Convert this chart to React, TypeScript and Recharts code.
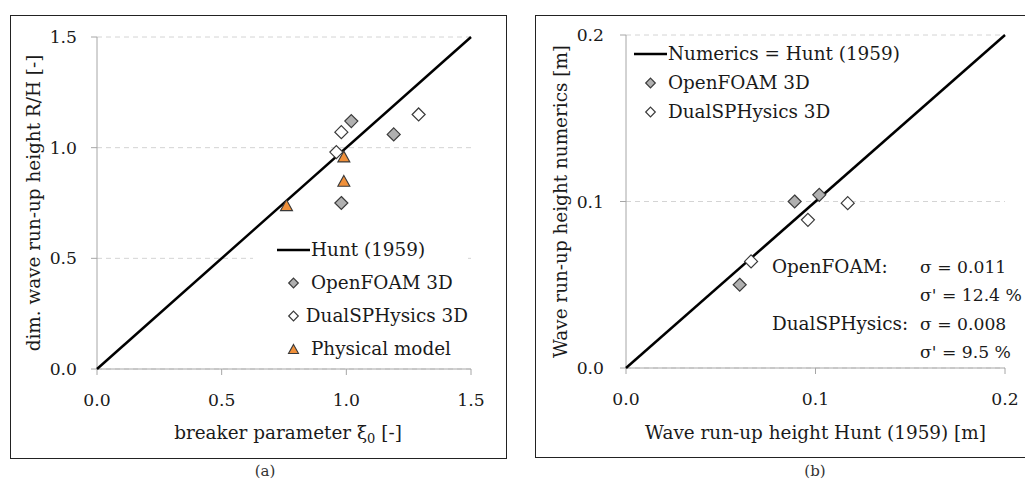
import React from "react";
import { CartesianGrid, Legend, Scatter, ScatterChart, XAxis, YAxis } from "recharts";

const FONT = "'DejaVu Serif', serif";
const TXT = "#1a1a1a";
const AXIS = "#a6a6a6";
const GRID = "#d4d4d4";
const GREY = "#b0b0b0";
const ORANGE = "#f0903a";
const EDGE = "#3a3a3a";
const FS = 18.4; // titles, legend

// panel (a): breaker parameter vs dim. run-up
const TICKS_A = [0, 0.5, 1, 1.5];
const HUNT_A_X = [0, 1.5];
const HUNT_A_Y = [0, 1.5];
const OF_A_XI = [1.02, 1.19, 0.98];
const OF_A_RH = [1.12, 1.06, 0.75];
const SPH_A_XI = [0.98, 0.96, 1.29];
const SPH_A_RH = [1.07, 0.98, 1.15];
const PHYS_XI = [0.99, 0.99, 0.76];
const PHYS_RH = [0.96, 0.85, 0.74];

// panel (b): Hunt vs numerics [m]
const TICKS_B = [0, 0.1, 0.2];
const HUNT_B_X = [0, 0.2];
const HUNT_B_Y = [0, 0.2];
const OF_B_HUNT = [0.089, 0.102, 0.06];
const OF_B_NUM = [0.1, 0.104, 0.05];
const SPH_B_HUNT = [0.096, 0.066, 0.117];
const SPH_B_NUM = [0.089, 0.064, 0.099];

const STATS = [
  ["OpenFOAM:", "σ = 0.011"],
  ["", "σ' = 12.4 %"],
  ["DualSPHysics:", "σ = 0.008"],
  ["", "σ' = 9.5 %"],
];

const pts = (xs: number[], ys: number[]) => xs.map((x, i) => ({ x, y: ys[i] }));

const diamond = (fill: string, r = 6.5) => (p: any) => (
  <polygon points={`${p.cx},${p.cy - r} ${p.cx + r},${p.cy} ${p.cx},${p.cy + r} ${p.cx - r},${p.cy}`}
    fill={fill} stroke={EDGE} strokeWidth={1.2} />
);
const triangle = (w = 12) => (p: any) => (
  <polygon points={`${p.cx},${p.cy - w * 0.45} ${p.cx + w / 2},${p.cy + w * 0.45} ${p.cx - w / 2},${p.cy + w * 0.45}`}
    fill={ORANGE} stroke={EDGE} strokeWidth={1.1} />
);
const none = () => <g />;

type Row = { label: string; kind: "line" | "grey" | "white" | "tri" };

function LegendBox({ rows, rowH }: { rows: Row[]; rowH: number }) {
  return (
    <div style={{ fontFamily: FONT, fontSize: FS, color: TXT }}>
      {rows.map(r => (
        <div key={r.label} style={{ display: "flex", alignItems: "center", height: rowH }}>
          <svg width={33} height={16} style={{ display: "block" }}>
            {r.kind === "line" && <line x1={0} x2={33} y1={8} y2={8} stroke="#000" strokeWidth={2.5} />}
            {r.kind === "grey" && diamond(GREY, 4.8)({ cx: 16.5, cy: 8 })}
            {r.kind === "white" && diamond("#fff", 4.8)({ cx: 16.5, cy: 8 })}
            {r.kind === "tri" && triangle(10)({ cx: 16.5, cy: 8 })}
          </svg>
          <span style={{ marginLeft: 1, whiteSpace: "nowrap" }}>{r.label}</span>
        </div>
      ))}
    </div>
  );
}

const tick = { fill: TXT, fontSize: 17.2, fontFamily: FONT };
const fmt = (v: number) => v.toFixed(1);

const yTitle = (text: string, dx: number) => (p: any) => {
  const vb = p.viewBox || {};
  const cx = (vb.x ?? 0) + dx;
  const cy = (vb.y ?? 0) + (vb.height ?? 0) / 2;
  return (
    <text x={cx} y={cy} transform={`rotate(-90 ${cx} ${cy})`} textAnchor="middle" dominantBaseline="central"
      fill={TXT} fontSize={FS} fontFamily={FONT}>{text}</text>
  );
};

export default function App() {
  const rowsA: Row[] = [
    { label: "Hunt (1959)", kind: "line" },
    { label: "OpenFOAM 3D", kind: "grey" },
    { label: "DualSPHysics 3D", kind: "white" },
    { label: "Physical model", kind: "tri" },
  ];
  const rowsB: Row[] = [
    { label: "Numerics = Hunt (1959)", kind: "line" },
    { label: "OpenFOAM 3D", kind: "grey" },
    { label: "DualSPHysics 3D", kind: "white" },
  ];

  return (
    <div style={{ position: "absolute", left: 0, top: 0, width: 1025, height: 483, background: "#fff", fontFamily: FONT }}>
      <div style={{ position: "absolute", left: 10, top: 15, width: 497, height: 444, border: "1.3px solid #222", boxSizing: "border-box" }} />
      <div style={{ position: "absolute", left: 535, top: 15, width: 500, height: 443, border: "1.3px solid #222", boxSizing: "border-box" }} />

      <div style={{ position: "absolute", left: 10, top: 15 }}>
        <ScatterChart width={496} height={443} margin={{ top: 22, right: 35, bottom: 0, left: 0 }}>
          <CartesianGrid vertical={false} stroke={GRID} strokeDasharray="5 4" />
          <XAxis type="number" dataKey="x" domain={[0, 1.5]} ticks={TICKS_A} tickFormatter={fmt} height={89}
            stroke={AXIS} tickSize={6} tickMargin={19} tick={tick}
            label={(p: any) => {
              const vb = p.viewBox || {};
              const cx = (vb.x ?? 0) + (vb.width ?? 0) / 2 + 4;
              const cy = (vb.y ?? 0) + 63;
              return (
                <text x={cx} y={cy} textAnchor="middle" dominantBaseline="central" fill={TXT} fontSize={FS} fontFamily={FONT}>
                  breaker parameter ξ<tspan dy={6} fontSize={13}>0</tspan><tspan dy={-6}> [-]</tspan>
                </text>
              );
            }} />
          <YAxis type="number" dataKey="y" domain={[0, 1.5]} ticks={TICKS_A} tickFormatter={fmt} width={87}
            stroke={AXIS} tickSize={6} tickMargin={14} tick={tick}
            label={yTitle("dim. wave run-up height R/H [-]", 23)} />
          <Legend layout="vertical" align="center" verticalAlign="middle"
            wrapperStyle={{ left: 243, top: 218, width: 215, height: 133, background: "#fff", paddingLeft: 24, boxSizing: "border-box" }}
            content={() => <LegendBox rows={rowsA} rowH={33} />} />
          <Scatter data={pts(HUNT_A_X, HUNT_A_Y)} line={{ stroke: "#000", strokeWidth: 2.5 }} shape={none} isAnimationActive={false} />
          <Scatter data={pts(OF_A_XI, OF_A_RH)} shape={diamond(GREY)} isAnimationActive={false} />
          <Scatter data={pts(SPH_A_XI, SPH_A_RH)} shape={diamond("#fff")} isAnimationActive={false} />
          <Scatter data={pts(PHYS_XI, PHYS_RH)} shape={triangle()} isAnimationActive={false} />
        </ScatterChart>
      </div>

      <div style={{ position: "absolute", left: 535, top: 15 }}>
        <ScatterChart width={490} height={442} margin={{ top: 20, right: 20, bottom: 0, left: 0 }}>
          <CartesianGrid vertical={false} stroke={GRID} strokeDasharray="5 4" />
          <XAxis type="number" dataKey="x" domain={[0, 0.2]} ticks={TICKS_B} tickFormatter={fmt} height={89}
            stroke={AXIS} tickSize={6} tickMargin={19} tick={tick}
            label={(p: any) => {
              const vb = p.viewBox || {};
              const cx = (vb.x ?? 0) + (vb.width ?? 0) / 2;
              const cy = (vb.y ?? 0) + 64;
              return (
                <text x={cx} y={cy} textAnchor="middle" dominantBaseline="central" fill={TXT} fontSize={FS} fontFamily={FONT}>
                  Wave run-up height Hunt (1959) [m]
                </text>
              );
            }} />
          <YAxis type="number" dataKey="y" domain={[0, 0.2]} ticks={TICKS_B} tickFormatter={fmt} width={91}
            stroke={AXIS} tickSize={6} tickMargin={16} tick={tick}
            label={yTitle("Wave run-up height numerics [m]", 25)} />
          <Legend layout="vertical" align="center" verticalAlign="middle"
            wrapperStyle={{ left: 99, top: 24, width: 300 }}
            content={() => <LegendBox rows={rowsB} rowH={29} />} />
          <Scatter data={pts(HUNT_B_X, HUNT_B_Y)} line={{ stroke: "#000", strokeWidth: 2.5 }} shape={none} isAnimationActive={false} />
          <Scatter data={pts(OF_B_HUNT, OF_B_NUM)} shape={diamond(GREY)} isAnimationActive={false} />
          <Scatter data={pts(SPH_B_HUNT, SPH_B_NUM)} shape={diamond("#fff")} isAnimationActive={false} />
        </ScatterChart>
      </div>

      <div style={{ position: "absolute", left: 772, top: 253, color: TXT, lineHeight: "28.3px" }}>
        {STATS.map(([a, b], i) => (
          <div key={i} style={{ display: "flex", alignItems: "baseline", whiteSpace: "nowrap" }}>
            <span style={{ width: 148, fontSize: FS }}>{a}</span><span style={{ fontSize: 17.2 }}>{b}</span>
          </div>
        ))}
      </div>

      <div style={{ position: "absolute", left: 245, top: 462, width: 40, textAlign: "center", fontSize: 15, color: "#333" }}>(a)</div>
      <div style={{ position: "absolute", left: 795, top: 462, width: 40, textAlign: "center", fontSize: 15, color: "#333" }}>(b)</div>
    </div>
  );
}
